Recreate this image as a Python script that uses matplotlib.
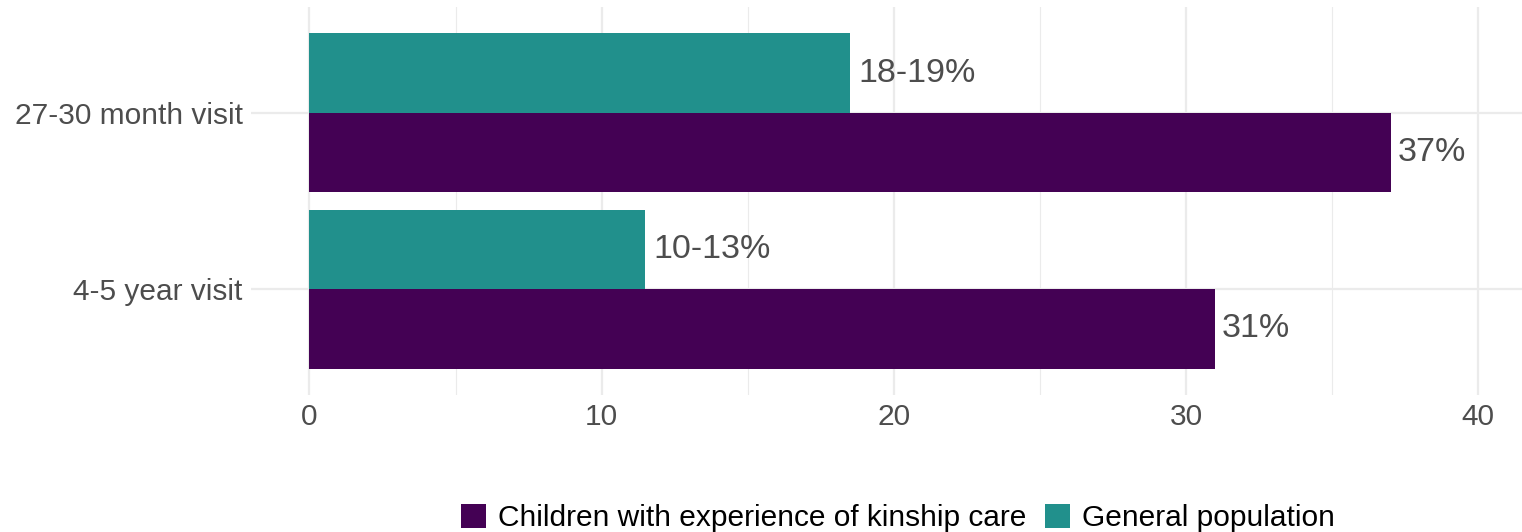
import matplotlib.pyplot as plt
from matplotlib.patches import Patch

plt.rcParams['font.family'] = ['Liberation Sans', 'DejaVu Sans']

# data
categories = ['4-5 year visit', '27-30 month visit']
kinship = [31, 37]
kinship_labels = ['31%', '37%']
general = [11.5, 18.5]
general_labels = ['10-13%', '18-19%']
series_names = ['Children with experience of kinship care', 'General population']
xticks = [0, 10, 20, 30, 40]

purple = '#440154'
teal = '#21908C'
grid_col = '#EBEBEB'
text_col = '#4D4D4D'

fig = plt.figure(figsize=(15.22, 5.32), dpi=100)
ax = fig.add_axes([251 / 1522, 1 - 395 / 532, 1 - 251 / 1522, (395 - 7) / 532])

ypos = list(range(1, len(categories) + 1))
h = 0.45

ax.barh([y - h / 2 for y in ypos], kinship, height=h, color=purple, zorder=2)
ax.barh([y + h / 2 for y in ypos], general, height=h, color=teal, zorder=2)

for y, v, lab in zip(ypos, kinship, kinship_labels):
    ax.annotate(lab, (v, y - h / 2), xytext=(5, 0), textcoords='offset points',
                ha='left', va='center', fontsize=24.5, color=text_col)
for y, v, lab in zip(ypos, general, general_labels):
    ax.annotate(lab, (v, y + h / 2), xytext=(6, 0), textcoords='offset points',
                ha='left', va='center', fontsize=24.5, color=text_col)

ax.set_xlim(-2, 41.5)
ax.set_ylim(0.4, 2.6)
ax.set_xticks(xticks)
ax.set_xticks([5, 15, 25, 35], minor=True)
ax.set_yticks(ypos)
ax.set_yticklabels(categories)

ax.grid(True, which='major', color=grid_col, lw=1.6, zorder=0)
ax.grid(True, which='minor', axis='x', color=grid_col, lw=0.8, zorder=0)
ax.set_axisbelow(True)
for s in ax.spines.values():
    s.set_visible(False)
ax.tick_params(which='both', length=0, labelsize=21.5, labelcolor=text_col)
ax.tick_params(axis='x', pad=6)
ax.tick_params(axis='y', pad=6)

handles = [Patch(facecolor=purple), Patch(facecolor=teal)]
fig.legend(handles, series_names, loc='center', bbox_to_anchor=(898 / 1522, 1 - 518 / 532),
           ncol=2, frameon=False, fontsize=21.5, handlelength=0.84, handleheight=0.84,
           handletextpad=0.4, columnspacing=0.6, borderpad=0, borderaxespad=0)

fig.savefig('out.png', dpi=100)
